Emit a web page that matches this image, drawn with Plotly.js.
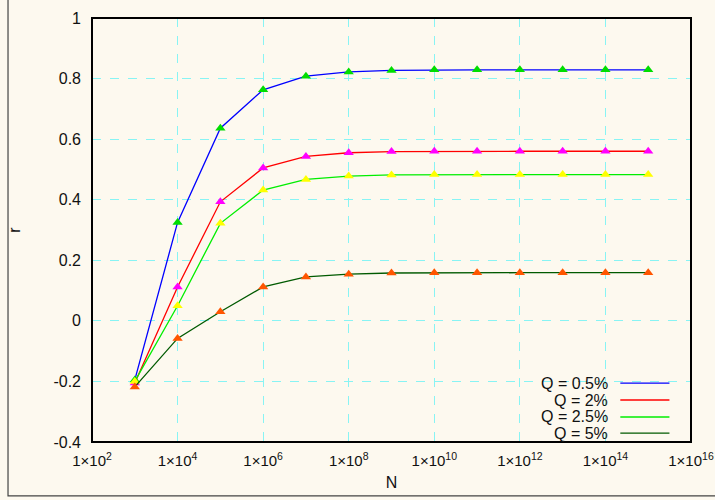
<!DOCTYPE html>
<html>
<head>
<meta charset="utf-8">
<script src="https://cdn.plot.ly/plotly-3.0.1.min.js"></script>
<style>html,body{margin:0;padding:0;background:#fdf9ef;}#chart{width:715px;height:500px;}</style>
</head>
<body>
<div id="chart"></div>
<script>
var N = [1e3, 1e4, 1e5, 1e6, 1e7, 1e8, 1e9, 1e10, 1e11, 1e12, 1e13, 1e14, 1e15];
var seriesNames = ['Q = 0.5%', 'Q = 2%', 'Q = 2.5%', 'Q = 5%'];
var rQ05 = [-0.195, 0.325, 0.636, 0.763, 0.808, 0.822, 0.827, 0.829, 0.829, 0.829, 0.829, 0.829, 0.829];
var rQ2  = [-0.205, 0.112, 0.393, 0.505, 0.543, 0.555, 0.559, 0.560, 0.560, 0.560, 0.560, 0.560, 0.560];
var rQ25 = [-0.200, 0.050, 0.322, 0.432, 0.467, 0.478, 0.482, 0.483, 0.483, 0.483, 0.483, 0.483, 0.483];
var rQ5  = [-0.218, -0.058, 0.030, 0.112, 0.145, 0.154, 0.158, 0.159, 0.159, 0.159, 0.159, 0.159, 0.159];
var xTickVals = [1e2, 1e4, 1e6, 1e8, 1e10, 1e12, 1e14, 1e16];
var xTickText = ['1×10<sup>2</sup>', '1×10<sup>4</sup>', '1×10<sup>6</sup>', '1×10<sup>8</sup>', '1×10<sup>10</sup>', '1×10<sup>12</sup>', '1×10<sup>14</sup>', '1×10<sup>16</sup>'];
var yTickVals = [-0.4, -0.2, 0, 0.2, 0.4, 0.6, 0.8, 1];
var yTickText = ['-0.4', '-0.2', '0', '0.2', '0.4', '0.6', '0.8', '1'];

var allSeries = [rQ05, rQ2, rQ25, rQ5];
var lineColors = ['#0000ff', '#ff0000', '#00ee00', '#005a00'];
var markerColors = ['#00dd00', '#ff00ff', '#ffff00', '#ff5500'];

var traces = [];
allSeries.forEach(function (s, i) {
  traces.push({
    x: N, y: s, type: 'scatter', mode: 'lines+markers', name: seriesNames[i],
    line: {color: lineColors[i], width: 1.3},
    marker: {symbol: 'triangle-up', size: 9, color: markerColors[i]},
    showlegend: false
  });
});

var font = {family: 'Liberation Sans, Arial, sans-serif', size: 16, color: '#111'};
var xfont = {family: 'Liberation Sans, Arial, sans-serif', size: 15, color: '#111'};
var shapes = [
  {type: 'rect', xref: 'paper', yref: 'paper', x0: -0.1402, x1: 1.05, y0: -0.127, y1: 1.06,
   line: {color: '#444', width: 1.2}, layer: 'below'},
  {type: 'rect', xref: 'paper', yref: 'paper', x0: 0, x1: 1, y0: 0, y1: 1,
   line: {color: '#000', width: 2}}
];
var annotations = [];
var legY = [0.139, 0.099, 0.059, 0.021];
seriesNames.forEach(function (n, i) {
  annotations.push({xref: 'paper', yref: 'paper', x: 0.865, y: legY[i], xanchor: 'right', yanchor: 'middle',
    text: n, showarrow: false, font: font});
  shapes.push({type: 'line', xref: 'paper', yref: 'paper', x0: 0.882, x1: 0.964, y0: legY[i], y1: legY[i],
    line: {color: lineColors[i], width: 1.3}});
});

var layout = {
  width: 715, height: 500,
  margin: {l: 92, r: 24, t: 18, b: 58},
  paper_bgcolor: '#fdf9ef', plot_bgcolor: '#fdf9ef',
  font: font,
  showlegend: false,
  xaxis: {
    type: 'log', range: [2, 16], tickvals: xTickVals, ticktext: xTickText,
    showgrid: true, gridcolor: '#88f4f4', griddash: 'dash', gridwidth: 1,
    zeroline: false, showline: false, ticks: '', ticklabelstandoff: 8,
    title: {text: 'N', font: font, standoff: 8}, tickfont: xfont
  },
  yaxis: {
    range: [-0.4, 1], tickvals: yTickVals, ticktext: yTickText,
    showgrid: true, gridcolor: '#88f4f4', griddash: 'dash', gridwidth: 1,
    zeroline: false, showline: false, ticks: '', ticklabelstandoff: 10,
    title: {text: 'r', font: font, standoff: 28}, tickfont: font
  },
  shapes: shapes,
  annotations: annotations
};
Plotly.newPlot('chart', traces, layout, {displayModeBar: false, staticPlot: true});
</script>
</body>
</html>
